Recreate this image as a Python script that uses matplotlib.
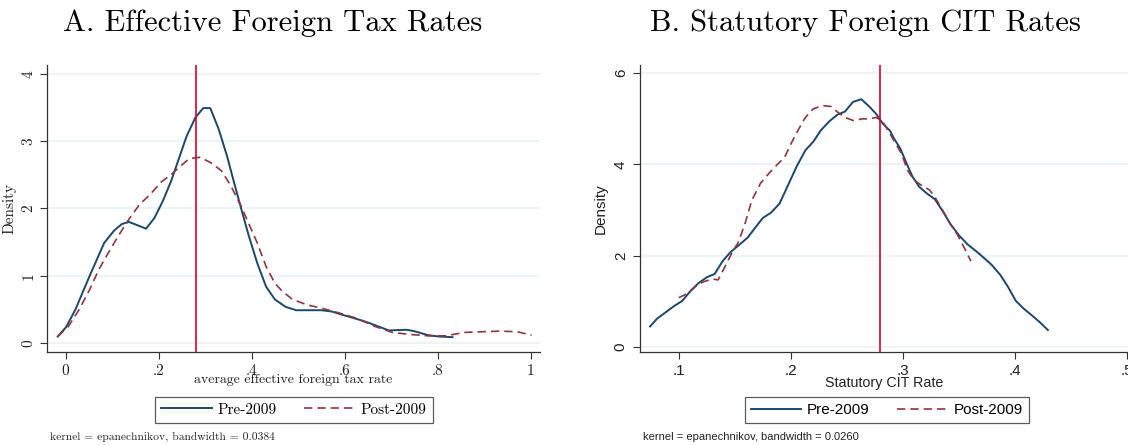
import numpy as np
import matplotlib.pyplot as plt
from matplotlib.lines import Line2D

# Panel A: effective foreign tax rates (kernel density estimates)
eff_pre_x = [-0.017, 0.001, 0.021, 0.051, 0.083, 0.104, 0.121, 0.136, 0.155, 0.173,
             0.191, 0.209, 0.227, 0.243, 0.260, 0.279, 0.296, 0.311, 0.329, 0.347,
             0.362, 0.377, 0.394, 0.412, 0.431, 0.450, 0.473, 0.496, 0.550, 0.573,
             0.596, 0.626, 0.649, 0.672, 0.695, 0.733, 0.749, 0.779, 0.802, 0.832]
eff_pre_y = [0.10, 0.24, 0.50, 0.99, 1.49, 1.67, 1.77, 1.80, 1.75, 1.70,
             1.86, 2.11, 2.41, 2.73, 3.07, 3.35, 3.49, 3.49, 3.18, 2.78,
             2.39, 2.01, 1.59, 1.19, 0.84, 0.65, 0.54, 0.49, 0.49, 0.47,
             0.42, 0.36, 0.31, 0.25, 0.19, 0.20, 0.18, 0.12, 0.10, 0.09]
eff_post_x = [-0.017, 0.006, 0.029, 0.052, 0.071, 0.090, 0.113, 0.136, 0.159, 0.182,
              0.205, 0.228, 0.247, 0.266, 0.289, 0.312, 0.335, 0.355, 0.377, 0.396,
              0.412, 0.431, 0.450, 0.466, 0.488, 0.519, 0.550, 0.588, 0.626, 0.665,
              0.703, 0.741, 0.779, 0.818, 0.856, 0.894, 0.933, 0.971, 1.002]
eff_post_y = [0.10, 0.25, 0.50, 0.80, 1.09, 1.32, 1.59, 1.84, 2.06, 2.21,
              2.39, 2.51, 2.63, 2.74, 2.76, 2.68, 2.56, 2.34, 2.04, 1.74,
              1.49, 1.14, 0.89, 0.77, 0.65, 0.57, 0.52, 0.45, 0.37, 0.25,
              0.16, 0.13, 0.11, 0.11, 0.16, 0.17, 0.18, 0.17, 0.12]
eff_ref = 0.28
eff_xticks = [0, 0.2, 0.4, 0.6, 0.8, 1.0]
eff_xlabels = ['0', '.2', '.4', '.6', '.8', '1']
eff_yticks = [0, 1, 2, 3, 4]

# Panel B: statutory CIT rates
cit_pre_x = [0.0744, 0.0806, 0.0883, 0.0960, 0.1031, 0.1099, 0.1176, 0.1252, 0.1320, 0.1391,
             0.1462, 0.1536, 0.1616, 0.1684, 0.1751, 0.1822, 0.1899, 0.1976, 0.2053, 0.2130,
             0.2201, 0.2269, 0.2346, 0.2416, 0.2484, 0.2555, 0.2629, 0.2700, 0.2761, 0.2823,
             0.2885, 0.2921, 0.2977, 0.3032, 0.3085, 0.3146, 0.3217, 0.3285, 0.3353, 0.3423,
             0.3500, 0.3577, 0.3654, 0.3725, 0.3793, 0.3870, 0.3938, 0.4009, 0.4079, 0.4153,
             0.4224, 0.4295]
cit_pre_y = [0.45, 0.62, 0.76, 0.90, 1.01, 1.21, 1.40, 1.53, 1.60, 1.88,
             2.08, 2.23, 2.40, 2.62, 2.83, 2.94, 3.14, 3.55, 3.96, 4.31,
             4.50, 4.75, 4.95, 5.09, 5.16, 5.37, 5.43, 5.27, 5.11, 4.89,
             4.74, 4.57, 4.35, 4.03, 3.74, 3.51, 3.36, 3.24, 2.99, 2.70,
             2.45, 2.25, 2.10, 1.95, 1.80, 1.58, 1.32, 1.01, 0.84, 0.69,
             0.54, 0.37]
cit_post_x = [0.1000, 0.1068, 0.1145, 0.1222, 0.1299, 0.1351, 0.1406, 0.1468, 0.1530, 0.1591,
              0.1653, 0.1730, 0.1807, 0.1884, 0.1945, 0.2007, 0.2069, 0.2130, 0.2201, 0.2284,
              0.2361, 0.2416, 0.2484, 0.2561, 0.2638, 0.2700, 0.2761, 0.2817, 0.2869, 0.2931,
              0.2992, 0.3039, 0.3100, 0.3162, 0.3239, 0.3285, 0.3347, 0.3423, 0.3485, 0.3547,
              0.3608]
cit_post_y = [1.08, 1.16, 1.32, 1.43, 1.49, 1.47, 1.73, 2.03, 2.29, 2.70,
              3.22, 3.59, 3.81, 4.01, 4.16, 4.48, 4.77, 5.03, 5.22, 5.29,
              5.27, 5.15, 5.03, 4.96, 5.00, 5.00, 5.03, 4.95, 4.74, 4.48,
              4.22, 3.88, 3.66, 3.55, 3.44, 3.29, 3.03, 2.70, 2.47, 2.18,
              1.88]
cit_ref = 0.28
cit_xticks = [0.1, 0.2, 0.3, 0.4, 0.5]
cit_xlabels = ['.1', '.2', '.3', '.4', '.5']
cit_yticks = [0, 2, 4, 6]

series_labels = ['Pre-2009', 'Post-2009']

PRE = '#1a476f'
POST = '#90353b'
REF = '#d4062e'
GRID = '#eaf2f3'
SERIF = 'cmr10'
SANS = 'Liberation Sans'


def style_axes(ax, family, fs):
    for s in ['top', 'right']:
        ax.spines[s].set_visible(False)
    for s in ['left', 'bottom']:
        ax.spines[s].set_color('#333333')
        ax.spines[s].set_linewidth(0.9)
    ax.yaxis.grid(True, color=GRID, linewidth=1.2)
    ax.set_axisbelow(True)
    ax.tick_params(direction='out', length=5, width=0.8, colors='#333333', labelcolor='#222222')
    for lab in ax.get_xticklabels() + ax.get_yticklabels():
        lab.set_family(family)
        lab.set_fontsize(fs)
    for lab in ax.get_yticklabels():
        lab.set_rotation(90)
        lab.set_va('center')


def add_legend(fig, x, family):
    handles = [Line2D([], [], color=PRE, lw=1.4),
               Line2D([], [], color=POST, lw=1.2, dashes=(5, 3))]
    leg = fig.legend(handles, series_labels, loc='center', bbox_to_anchor=(x, 0.0787),
                     ncol=2, frameon=True, fancybox=False, edgecolor='#333333',
                     handlelength=3.3, handletextpad=0.4, columnspacing=1.8,
                     borderpad=0.4, prop={'family': family, 'size': 11})
    leg.get_frame().set_linewidth(0.9)
    return leg


fig = plt.figure(figsize=(11.28, 4.45), dpi=100)

# ---- Panel A ----
axA = fig.add_axes([0.0417, 0.209, 0.437, 0.645])
axA.plot(eff_pre_x, eff_pre_y, color=PRE, lw=1.4)
axA.plot(eff_post_x, eff_post_y, color=POST, lw=1.2, dashes=(5, 3))
axA.axvline(eff_ref, color=REF, lw=1.2)
axA.set_xlim(-0.04, 1.02)
axA.set_ylim(-0.13, 4.13)
axA.set_xticks(eff_xticks, eff_xlabels)
axA.set_yticks(eff_yticks)
style_axes(axA, SERIF, 11)
axA.set_xlabel('average effective foreign tax rate', family=SERIF, fontsize=10,
               labelpad=-2.5, color='#222222')
axA.set_ylabel('Density', family=SERIF, fontsize=11, labelpad=4, color='#222222')
fig.text(0.242, 0.948, 'A. Effective Foreign Tax Rates', family=SERIF, fontsize=22,
         ha='center', va='center')
add_legend(fig, 0.2606, SERIF)
fig.text(0.044, 0.012, 'kernel = epanechnikov, bandwidth = 0.0384', family=SERIF,
         fontsize=8.3, color='#222222')

# ---- Panel B ----
axB = fig.add_axes([0.567, 0.209, 0.433, 0.645])
axB.plot(cit_pre_x, cit_pre_y, color=PRE, lw=1.4)
axB.plot(cit_post_x, cit_post_y, color=POST, lw=1.2, dashes=(5, 3))
axB.axvline(cit_ref, color=REF, lw=1.2)
axB.set_xlim(0.065, 0.501)
axB.set_ylim(-0.11, 6.18)
axB.set_xticks(cit_xticks, cit_xlabels)
axB.set_yticks(cit_yticks)
style_axes(axB, SANS, 11)
axB.set_xlabel('Statutory CIT Rate', family=SANS, fontsize=10.3, labelpad=-1, color='#222222')
axB.set_ylabel('Density', family=SANS, fontsize=11, labelpad=4, color='#222222')
fig.text(0.767, 0.948, 'B. Statutory Foreign CIT Rates', family=SERIF, fontsize=22,
         ha='center', va='center')
add_legend(fig, 0.7863, SANS)
fig.text(0.57, 0.012, 'kernel = epanechnikov, bandwidth = 0.0260', family=SANS,
         fontsize=8, color='#222222')

fig.savefig('out.png', dpi=100)
